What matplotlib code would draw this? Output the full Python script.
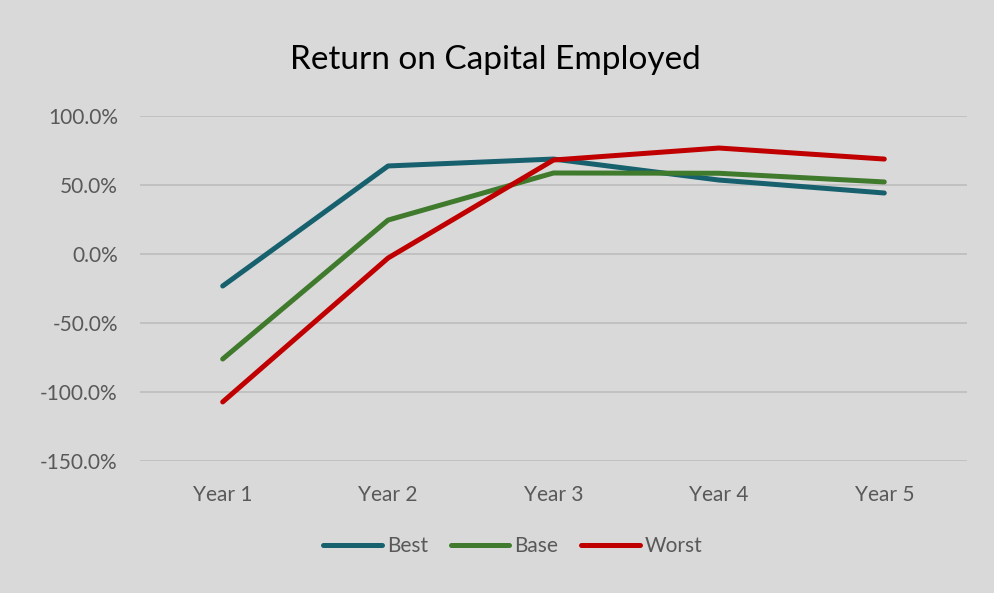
import matplotlib
matplotlib.use("Agg")
import matplotlib.pyplot as plt
from matplotlib.ticker import FuncFormatter

categories = ["Year 1", "Year 2", "Year 3", "Year 4", "Year 5"]
best = [-23.2, 63.8, 68.8, 53.6, 44.2]
base = [-76.1, 24.6, 58.7, 58.5, 52.2]
worst = [-107.2, -2.9, 68.1, 76.8, 68.8]
series_names = ["Best", "Base", "Worst"]
colors = ["#17606E", "#3F7A2D", "#C00000"]

plt.rcParams['font.family'] = ['Lato', 'DejaVu Sans']

fig = plt.figure(figsize=(9.95, 5.93), dpi=100)
fig.patch.set_facecolor("#D9D9D9")
ax = fig.add_axes([140/995, 1-461/593, (967-140)/995, (461-116)/593])
ax.set_facecolor("#D9D9D9")

x = list(range(len(categories)))
for vals, name, c in zip([best, base, worst], series_names, colors):
    ax.plot(x, vals, color=c, lw=3.6, solid_capstyle='round', solid_joinstyle='round', label=name, zorder=3)

ax.set_xlim(-0.5, len(categories) - 0.5)
ax.set_ylim(-150, 100)
ax.set_yticks([-150, -100, -50, 0, 50, 100])
ax.yaxis.set_major_formatter(FuncFormatter(lambda v, p: f"{v:.1f}%"))
ax.set_xticks(x)
ax.set_xticklabels(categories)
ax.grid(axis='y', color="#BFBFBF", lw=1.3, zorder=0)
for s in ax.spines.values():
    s.set_visible(False)
ax.tick_params(length=0, labelsize=15, colors="#595959", pad=16)
ax.tick_params(axis='x', pad=17)

fig.text(0.4975, 1-60/593, "Return on Capital Employed", ha='center', va='center', fontsize=24, color='black')

leg = fig.legend(loc='center', bbox_to_anchor=(513/995, 1-546/593), ncol=3, frameon=False,
                 fontsize=15, handlelength=2.8, handletextpad=0.25, columnspacing=1.1)
for t in leg.get_texts():
    t.set_color("#595959")

fig.savefig("out.png", dpi=100, facecolor=fig.get_facecolor())
